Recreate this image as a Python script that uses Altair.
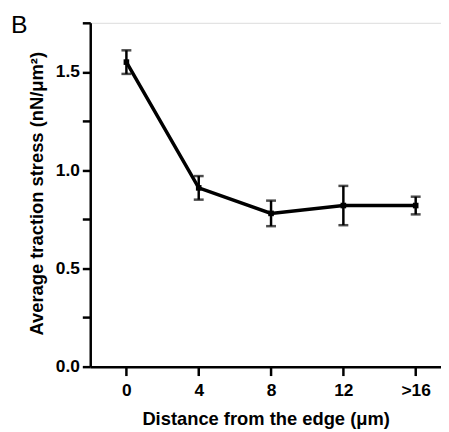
import json
import altair as alt
import pandas as pd

labels = ["0", "4", "8", "12", ">16"]
means = [1.55, 0.91, 0.78, 0.82, 0.82]
errs = [0.06, 0.06, 0.065, 0.10, 0.045]
panel = ["B"]

df = pd.DataFrame({
    "idx": list(range(len(labels))),
    "label": labels,
    "mean": means,
    "lo": [m - e for m, e in zip(means, errs)],
    "hi": [m + e for m, e in zip(means, errs)],
})

FONT = "Liberation Sans"
label_expr = json.dumps(labels) + "[datum.value]"

x = alt.X(
    "idx:Q",
    scale=alt.Scale(domain=[-0.5, 4.35], nice=False, zero=False),
    axis=alt.Axis(
        title="Distance from the edge (μm)",
        values=list(range(len(labels))),
        labelExpr=label_expr,
        grid=False,
        domainColor="black", domainWidth=2.5,
        tickColor="black", tickWidth=2.5, tickSize=9,
        labelFont=FONT, labelFontSize=17.5, labelFontWeight="bold", labelColor="black",
        labelPadding=6,
        titleFont=FONT, titleFontSize=18.5, titleFontWeight="bold", titleColor="black",
        titleY=58, titleBaseline="alphabetic",
    ),
)
y = alt.Y(
    "mean:Q",
    scale=alt.Scale(domain=[0, 1.75], nice=False),
    axis=alt.Axis(
        title="Average traction stress (nN/μm²)",
        values=[i * 0.25 for i in range(8)],
        labelExpr="datum.value % 0.5 == 0 ? format(datum.value, '.1f') : ''",
        grid=False,
        domainColor="black", domainWidth=2.5,
        tickColor="black", tickWidth=2.5, tickSize=8,
        labelFont=FONT, labelFontSize=17.5, labelFontWeight="bold", labelColor="black",
        labelPadding=3,
        titleFont=FONT, titleFontSize=18.5, titleFontWeight="bold", titleColor="black",
        titleX=-48, titleY=172, titleBaseline="alphabetic", titleAlign="center",
    ),
)

base = alt.Chart(df)
line = base.mark_line(color="black", strokeWidth=3.5).encode(x=x, y=y)
pts = base.mark_square(color="black", size=32, opacity=1).encode(x=x, y=y)
bars = base.mark_rule(color="black", strokeWidth=2.5).encode(x=x, y="lo:Q", y2="hi:Q")
cap_lo = base.mark_tick(color="black", thickness=2.5, size=10, orient="horizontal").encode(x=x, y="lo:Q")
cap_hi = base.mark_tick(color="black", thickness=2.5, size=10, orient="horizontal").encode(x=x, y="hi:Q")

letter = alt.Chart(pd.DataFrame({"t": panel})).mark_text(
    font=FONT, fontSize=25, fontWeight="normal", color="black",
    align="left", baseline="alphabetic",
).encode(text="t:N", x=alt.value(-80), y=alt.value(10))

chart = alt.layer(bars, cap_lo, cap_hi, line, pts, letter).properties(
    width=354,
    height=347,
    autosize=alt.AutoSizeParams(type="none"),
    padding={"left": 83, "top": 13, "right": 0, "bottom": 64},
).configure_view(stroke=None).configure(background="white")

chart.save("out.html", embed_options={"renderer": "svg", "actions": False})
